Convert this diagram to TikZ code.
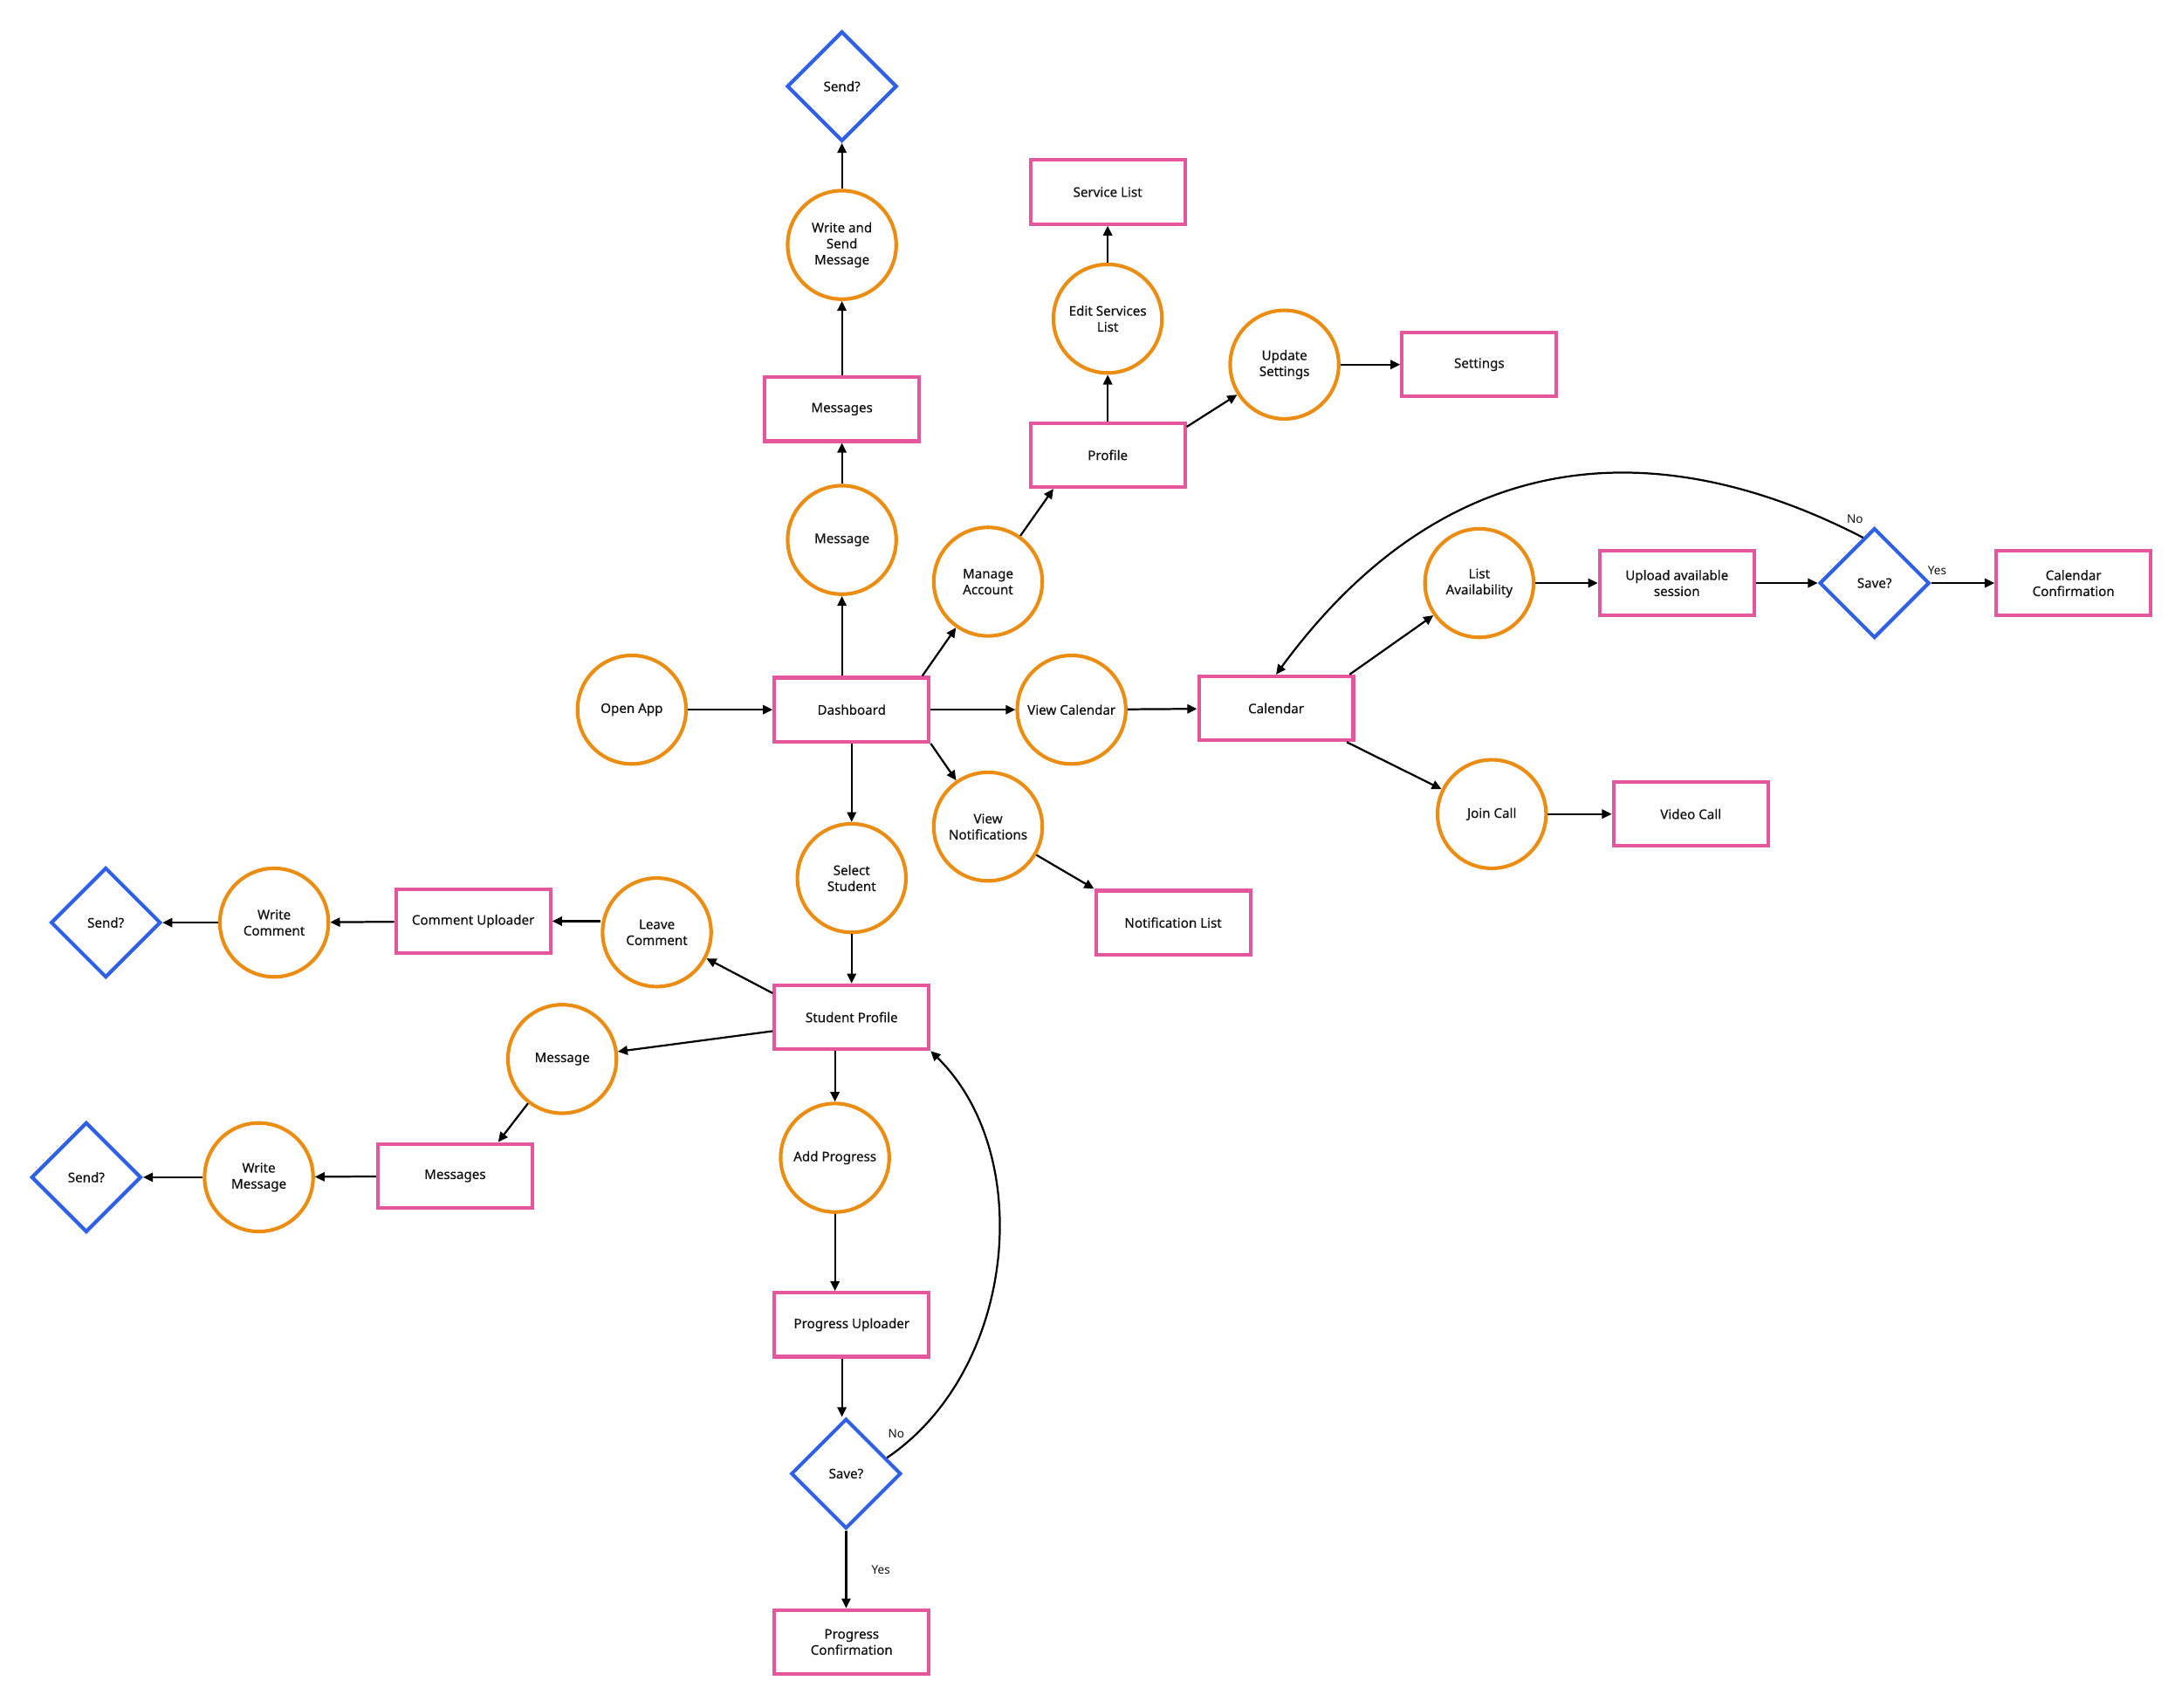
\documentclass[tikz,border=0pt]{standalone}
\usepackage{fontspec}
\setmainfont{Noto Sans}
\newfontfamily\boxfont{Noto Sans}[FakeBold=0.45]
\usepackage{tikz}
\usetikzlibrary{shapes.geometric, arrows.meta, positioning, calc}
\definecolor{screenpink}{HTML}{E4569E}
\definecolor{actionorange}{HTML}{EB8D13}
\definecolor{decisionblue}{HTML}{2F60E6}
\definecolor{textdark}{HTML}{111111}
\tikzset{
  arr/.style={-{Triangle[length=7pt,width=6.5pt]}, line width=1.4pt, black},
  screen/.style={rectangle, draw=screenpink, line width=2.6pt, minimum width=111pt, minimum height=46pt, inner sep=2pt, align=center, text=textdark, font=\boxfont\fontsize{9.5}{11.5}\selectfont},
  action/.style={circle, draw=actionorange, line width=2.6pt, minimum size=78pt, inner sep=0pt, align=center, text=textdark, font=\boxfont\fontsize{9.5}{11.5}\selectfont},
  decision/.style={diamond, draw=decisionblue, line width=2.6pt, minimum width=79pt, minimum height=79pt, inner sep=0pt, align=center, text=textdark, font=\boxfont\fontsize{9.5}{11.5}\selectfont},
  answer/.style={inner sep=1pt, text=textdark, font=\fontsize{8.5}{10}\selectfont},
}

\begin{document}
\begin{tikzpicture}[x=1pt, y=-1pt]
  \useasboundingbox (0,0) rectangle (1568,1227);

  % centre column
  \node[action]   (openapp)  at (454,510)  {Open App};
  \node[screen]   (dash)     at (612,510)  {Dashboard};
  \node[action]   (msgtop)   at (605,388)  {Message};
  \node[screen]   (msgstop)  at (605,294)  {Messages};
  \node[action]   (writesend) at (605,176) {Write and\\Send\\Message};
  \node[decision] (sendtop)  at (605,62)   {Send?};

  % account branch
  \node[action]   (manage)   at (710,418)  {Manage\\Account};
  \node[screen]   (profile)  at (796,327)  {Profile};
  \node[action]   (editserv) at (796,229)  {Edit Services\\List};
  \node[screen]   (servlist) at (796,138)  {Service List};
  \node[action]   (updset)   at (923,262)  {Update\\Settings};
  \node[screen]   (settings) at (1063,262) {Settings};

  % calendar branch
  \node[action]   (viewcal)  at (770,510)  {View Calendar};
  \node[screen]   (cal)      at (917,509)  {Calendar};
  \node[action]   (listav)   at (1063,419) {List\\Availability};
  \node[screen]   (upload)   at (1205,419) {Upload available\\session};
  \node[decision] (savecal)  at (1347,419) {Save?};
  \node[screen]   (calconf)  at (1490,419) {Calendar\\Confirmation};
  \node[action]   (join)     at (1072,585) {Join Call};
  \node[screen]   (video)    at (1215,585) {Video Call};

  % notifications
  \node[action]   (viewnot)  at (710,594)  {View\\Notifications};
  \node[screen]   (notlist)  at (843,663)  {Notification List};

  % student branch
  \node[action]   (selstu)   at (612,631)  {Select\\Student};
  \node[screen]   (stuprof)  at (612,731)  {Student Profile};
  \node[action]   (leave)    at (472,670)  {Leave\\Comment};
  \node[screen]   (comup)    at (340,662)  {Comment Uploader};
  \node[action]   (wcomment) at (197,663)  {Write\\Comment};
  \node[decision] (sendcom)  at (76,663)   {Send?};
  \node[action]   (msgstu)   at (404,761)  {Message};
  \node[screen]   (msgsstu)  at (327,845)  {Messages};
  \node[action]   (wmsg)     at (186,846)  {Write\\Message};
  \node[decision] (sendmsg)  at (62,846)   {Send?};
  \node[action]   (addprog)  at (600,832)  {Add Progress};
  \node[screen]   (progup)   at (612,952)  {Progress Uploader};
  \node[decision] (saveprog) at (608,1059) {Save?};
  \node[screen]   (progconf) at (612,1180) {Progress\\Confirmation};

  % answers
  \node[answer] (nocal)   at (1333,373) {No};
  \node[answer] (yescal)  at (1392,410) {Yes};
  \node[answer] (noprog)  at (644,1030) {No};
  \node[answer] (yesprog) at (633,1128) {Yes};

  % connectors
  \draw[arr] (openapp) -- (dash);
  \draw[arr] (dash.north -| msgtop) -- (msgtop);
  \draw[arr] (msgtop) -- (msgstop);
  \draw[arr] (msgstop) -- (writesend);
  \draw[arr] (writesend) -- (sendtop);

  \draw[arr] ([xshift=-6pt]dash.north east) -- (manage);
  \draw[arr] (manage) -- ([xshift=-39pt]profile.south);
  \draw[arr] (profile) -- (editserv);
  \draw[arr] (editserv) -- (servlist);
  \draw[arr] ([yshift=-4pt]profile.north east) -- (updset);
  \draw[arr] (updset) -- (settings);

  \draw[arr] (dash.east |- viewcal) -- (viewcal);
  \draw[arr] (viewcal) -- (cal);
  \draw[arr] ([xshift=-4pt]cal.north east) -- (listav);
  \draw[arr] (listav) -- (upload);
  \draw[arr] (upload) -- (savecal);
  \draw[arr] (savecal) -- (calconf);
  \draw[arr] ($(savecal.north)!0.2!(savecal.west)$) .. controls (1230,330) and (1060,290) .. (cal.north);
  \draw[arr] ([xshift=-6pt]cal.south east) -- (join);
  \draw[arr] (join) -- (video);

  \draw[arr] (dash.south east) -- (viewnot);
  \draw[arr] (viewnot) -- (notlist.north west);

  \draw[arr] (dash) -- (selstu);
  \draw[arr] (selstu) -- (stuprof);
  \draw[arr] ([yshift=-7pt]stuprof.north west) -- (leave);
  \draw[arr] (comup.east -| leave.west) -- (comup);
  \draw[arr] (comup) -- (wcomment);
  \draw[arr] (wcomment) -- (sendcom);
  \draw[arr] ([yshift=-10pt]stuprof.west) -- (msgstu);
  \draw[arr] (msgstu) -- ([xshift=31pt]msgsstu.north);
  \draw[arr] (msgsstu) -- (wmsg);
  \draw[arr] (wmsg) -- (sendmsg);
  \draw[arr] (stuprof.south -| addprog) -- (addprog);
  \draw[arr] (addprog) -- (progup.north -| addprog);
  \draw[arr] ([xshift=-7pt]progup.south) -- ([xshift=-3pt]saveprog.north);
  \draw[arr] (saveprog) -- (progconf.north -| saveprog);
  \draw[arr] ($(saveprog.north)!0.72!(saveprog.east)$) .. controls (730,985) and (745,830) .. (stuprof.south east);
\end{tikzpicture}
\end{document}
